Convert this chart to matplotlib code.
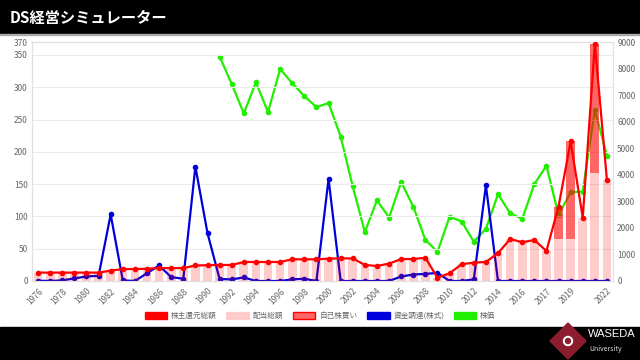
import numpy as np
import matplotlib.pyplot as plt
from matplotlib.patches import Patch, Rectangle, Polygon, Circle

plt.rcParams['font.family'] = ['Noto Sans CJK JP', 'DejaVu Sans']

# categories (fiscal years)
years = [str(y) for y in range(1976, 2017)] + ['2017', '2017', '2018', '2019', '2020', '2021', '2022']

# dividends total and buybacks (left axis)
dividends = [13, 13, 13, 13, 13, 13, 16, 18.5, 18.5, 19, 20, 20, 20, 24, 24.5,
             24.8, 24.8, 29.4, 29.4, 29.4, 29.4, 33.6, 33.6, 33.6, 34.6, 35, 35,
             24.8, 23.3, 26.9, 34, 34, 36, 5, 12, 26, 28.4, 29.5, 43, 65, 60,
             63.5, 46.5, 64.6, 64.6, 98, 167, 156]
buybacks = [0] * 43 + [50.5, 151.4, 0, 200, 0]

# equity financing (left axis)
funding = [0.5, 0, 1, 4, 7, 8, 103, 1, 0, 12, 24, 6, 3.5, 177, 74, 3, 2.5, 5.5,
           0, 0, 0, 2.5, 3.5, 0, 158, 0, 0, 0, 0, 0, 7, 10, 11, 12.5, 0, 0, 2.5,
           148, 0, 0, 0, 0, 0, 0, 0, 0, 0, 0]

# stock price (right axis)
price = [np.nan] * 15 + [8450, 7420, 6310, 7480, 6360, 7980, 7450, 6960, 6550,
                         6700, 5440, 3560, 1840, 3040, 2390, 3730, 2800, 1550,
                         1100, 2420, 2240, 1480, 1960, 3270, 2550, 2340, 3650,
                         4340, 2490, 3340, 3370, 6450, 4720]

legend_labels = ['株主還元総額', '配当総額', '自己株買い', '資金調達(株式)', '株価']

x = np.arange(len(years))
total = np.array(dividends) + np.array(buybacks)

RED = '#ff0000'
PINK = (1, 0, 0, 0.2)
BUY = (1, 0, 0, 0.6)
BLUE = '#0000dd'
GREEN = '#22ee00'
GRAY = '#666666'

fig = plt.figure(figsize=(6.4, 3.6), dpi=100)

# page frame: title bar, footer, logo
bg = fig.add_axes([0, 0, 1, 1], zorder=-1)
bg.set_xlim(0, 640)
bg.set_ylim(360, 0)
bg.axis('off')
bg.add_patch(Rectangle((0, 0), 640, 34, color='black'))
bg.add_patch(Rectangle((0, 34), 640, 1.2, color='#aaaaaa'))
bg.add_patch(Rectangle((0, 327), 640, 33, color='black'))
bg.text(10, 18, 'DS経営シミュレーター', color='white', fontsize=11,
        fontweight='bold', va='center', ha='left')
bg.add_patch(Polygon([(568, 323), (586, 341), (568, 359), (550, 341)],
                     closed=True, color='#8c1d2f'))
bg.add_patch(Circle((568, 341), 4.5, color='white'))
bg.add_patch(Circle((568, 341), 2.5, color='#8c1d2f'))
bg.text(588, 334, 'WASEDA', color='white', fontsize=8, va='center', ha='left',
        family=['Liberation Sans', 'DejaVu Sans'])
bg.text(589, 349, 'University', color='#dddddd', fontsize=5, va='center', ha='left')

ax = fig.add_axes([32 / 640, 1 - 281 / 360, 581 / 640, 239 / 360])
ax2 = ax.twinx()
ax.set_zorder(2)
ax2.set_zorder(1)
ax.patch.set_visible(False)

# stock price on the right axis (drawn underneath)
ax2.plot(x, price, color=GREEN, lw=1.6, marker='o', ms=3, zorder=1)
ax2.set_ylim(0, 9000)
ax2.set_yticks(range(0, 9001, 1000))

# equity funding, then the stacked bars, red total on top
ax.plot(x, funding, color=BLUE, lw=1.6, marker='o', ms=3, zorder=1)
ax.bar(x, dividends, width=0.72, color=PINK, zorder=2)
ax.bar(x, buybacks, width=0.72, bottom=dividends, color=BUY, zorder=2)
ax.plot(x, total, color=RED, lw=1.6, marker='o', ms=3, zorder=3)

ax.set_xlim(-0.5, len(years) - 0.5)
ax.set_ylim(0, 370)
ax.set_yticks(list(range(0, 351, 50)) + [370])

ax.set_xticks(x)
shown = [lab if (i % 2 == 0 and i <= 44) or i == len(years) - 1 else ''
         for i, lab in enumerate(years)]
ax.set_xticklabels(shown, rotation=45, ha='right', rotation_mode='anchor')

for a in (ax, ax2):
    a.tick_params(labelsize=6, colors=GRAY, length=0, pad=3)
    for s in a.spines.values():
        s.set_color('#e0e0e0')
        s.set_linewidth(0.8)
ax.tick_params(axis='x', pad=4)
ax2.grid(False)
ax.grid(axis='y', color='#ebebeb', lw=0.8)
ax.set_axisbelow(True)

handles = [Patch(facecolor=RED, edgecolor=RED),
           Patch(facecolor=PINK, edgecolor=(1, 0, 0, 0.1)),
           Patch(facecolor=BUY, edgecolor=RED),
           Patch(facecolor=BLUE, edgecolor=BLUE),
           Patch(facecolor=GREEN, edgecolor=GREEN)]
leg = fig.legend(handles, legend_labels, loc='center', bbox_to_anchor=(0.5, 1 - 316 / 360),
                 ncol=5, frameon=False, fontsize=5.5, handlelength=3.0,
                 handleheight=1.0, columnspacing=1.2, handletextpad=0.5)
for t in leg.get_texts():
    t.set_color(GRAY)

fig.savefig('out.png', dpi=100)
